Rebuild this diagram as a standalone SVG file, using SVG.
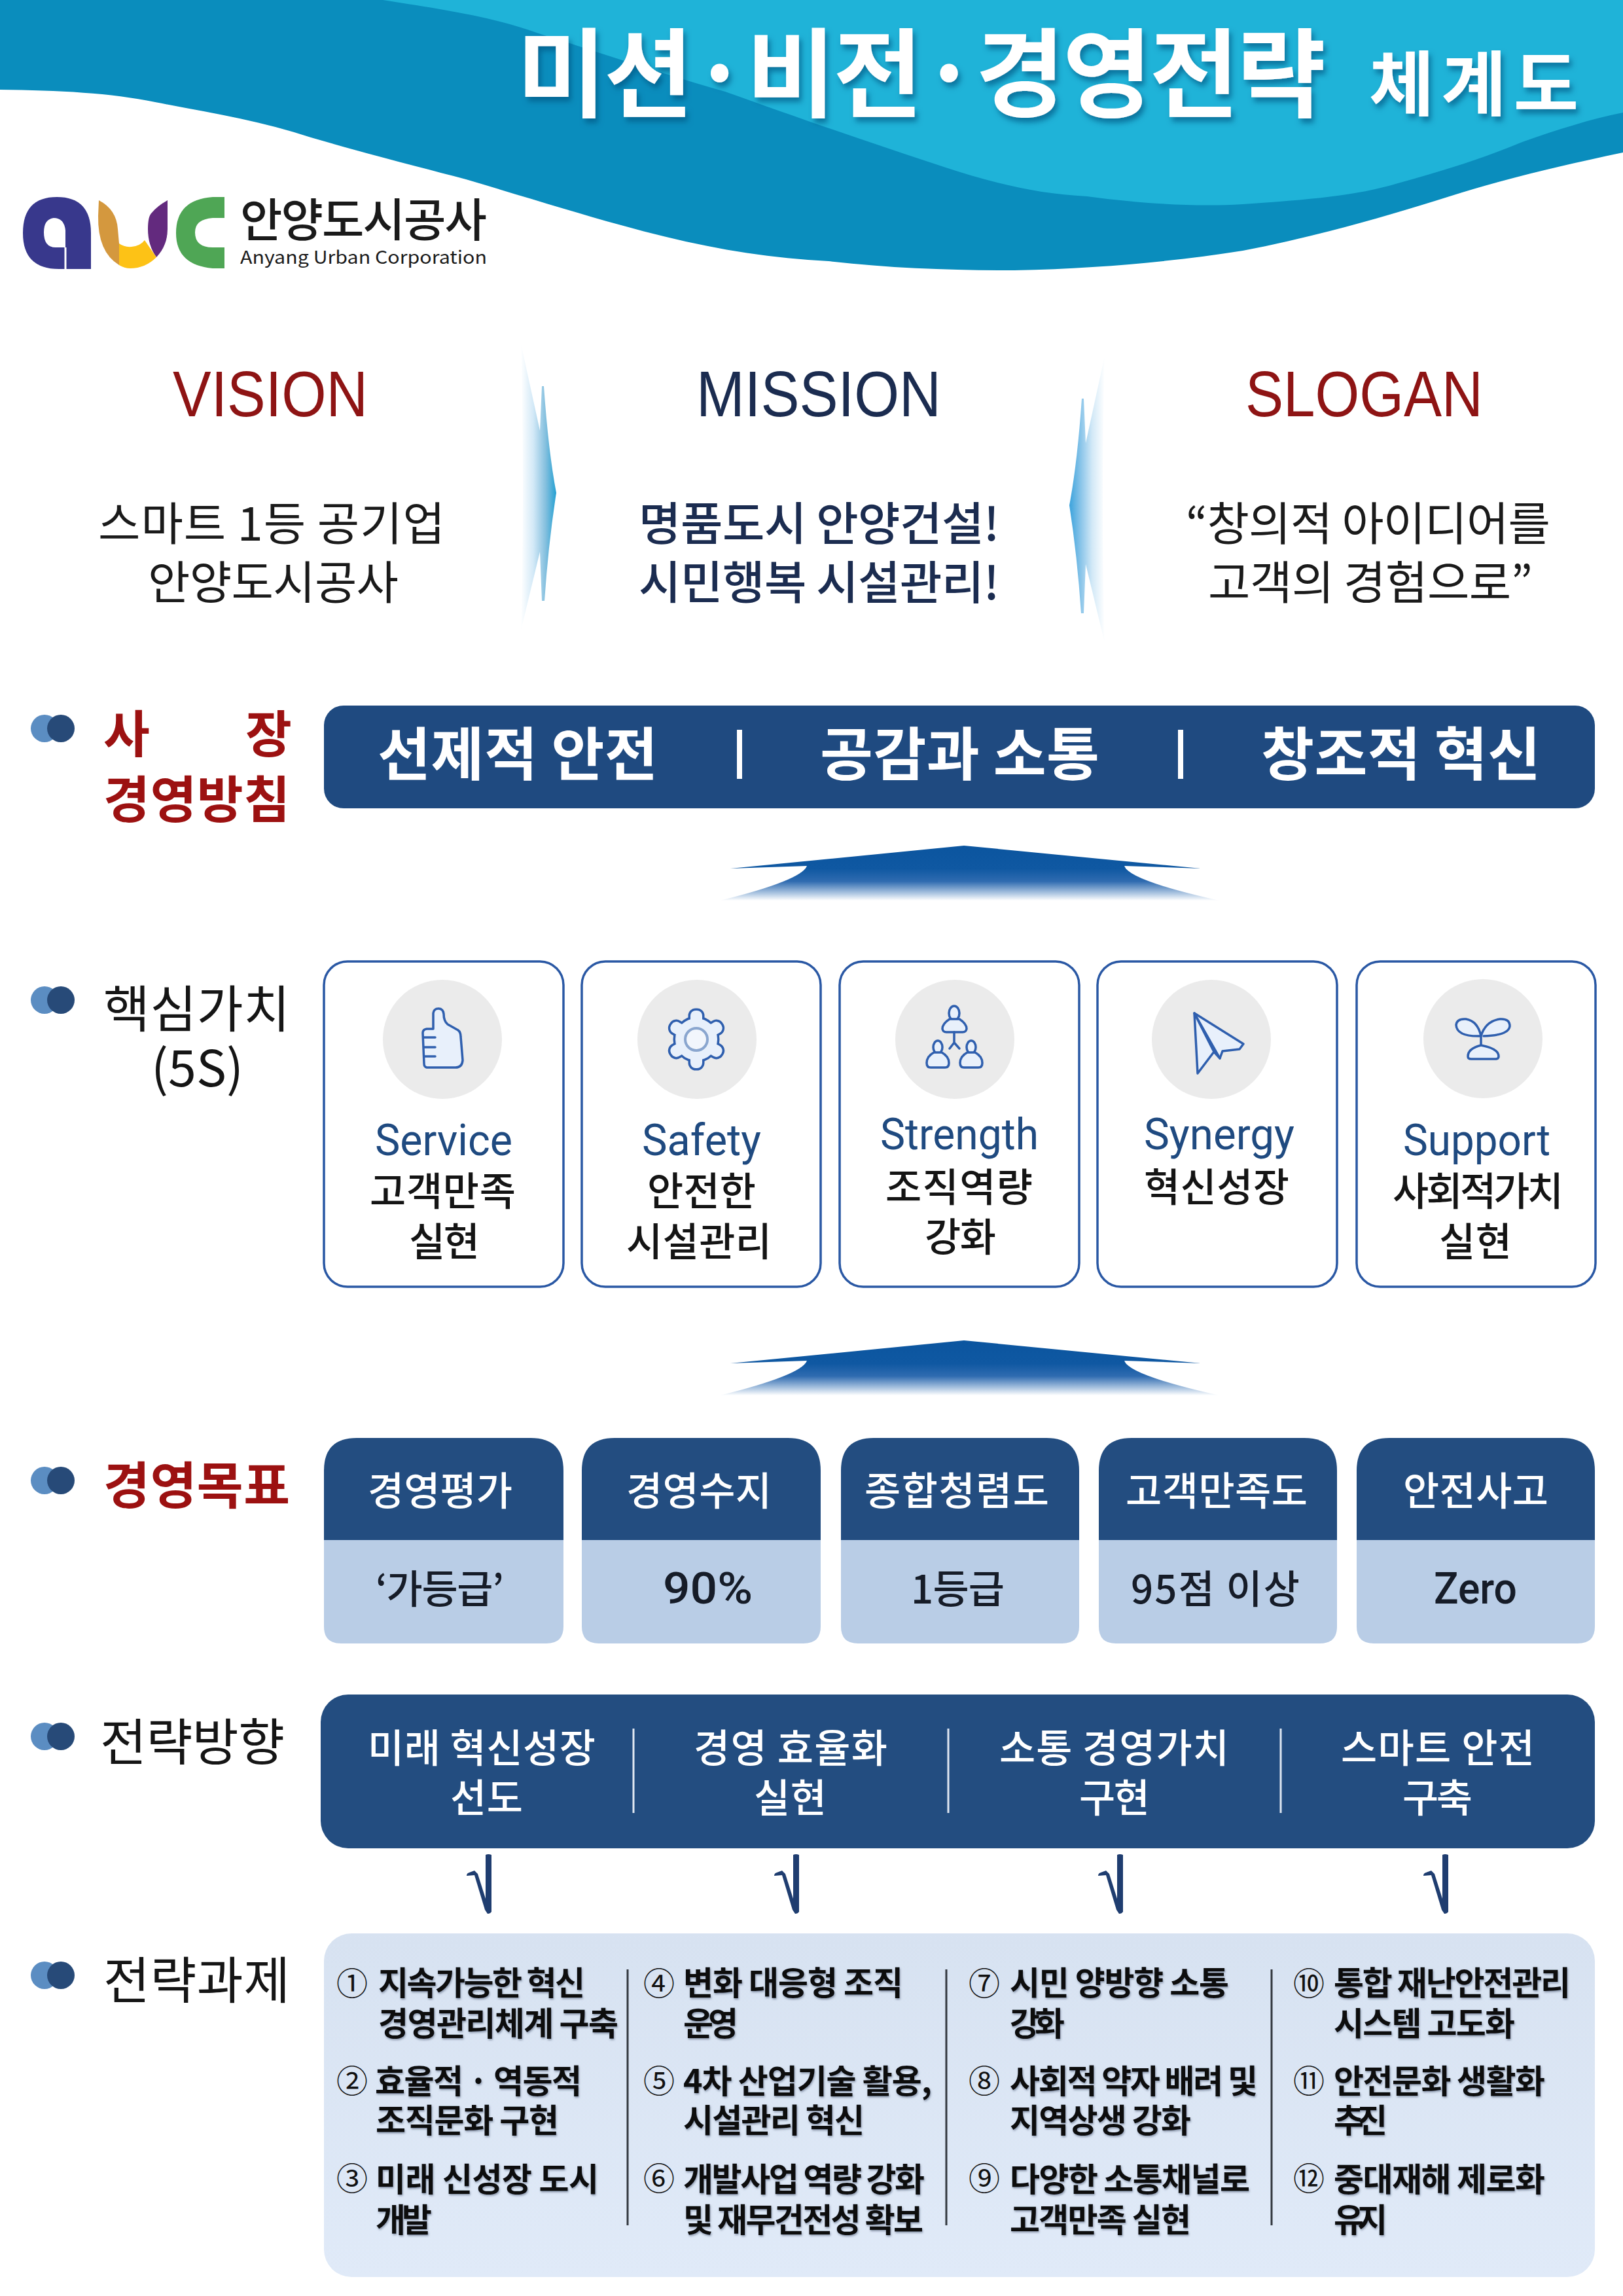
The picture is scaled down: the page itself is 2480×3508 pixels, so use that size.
<svg xmlns="http://www.w3.org/2000/svg" width="2480" height="3508" viewBox="0 0 2480 3508">
<style>
text{font-family:"Noto Sans CJK KR","Noto Sans",sans-serif;white-space:pre}
.w{fill:#fff}.m{font-weight:500}.b{font-weight:700}
.navy{fill:#1b2c50}.dk{fill:#1a1a1a}.red{fill:#8e1414}.rb{fill:#9c1111;font-weight:700;font-size:77px}
.head{font-family:"Liberation Sans",Arial,sans-serif;font-size:98px}
.h{font-size:77px;fill:#151515}
.vm{font-size:70px}
.lat{font-family:Roboto,"Noto Sans",sans-serif;font-size:66px;fill:#1f4a80}
.ko{font-size:60px;font-weight:500;fill:#141414}
.gt{font-size:60px;font-weight:500;fill:#fff}
.gb{font-size:60px;font-weight:500;fill:#161c28}
.gl{font-family:Roboto,"Noto Sans",sans-serif;font-size:66px;font-weight:500;fill:#161c28}
.st{font-size:60px;font-weight:500;fill:#fff}
.t{font-size:50px;font-weight:700;fill:#111;filter:url(#ts)}
.n{font-size:48px;fill:#111;text-anchor:middle}
.card{fill:#fff;stroke:#2a58a4;stroke-width:3.5}
.disc{fill:#ebebeb}
.ic{fill:#e8f0fb;stroke:#2f5fae;stroke-width:3.5;stroke-linejoin:round;stroke-linecap:round}
.gtop{fill:#234d80}.gbot{fill:#b9cde6}
.div{stroke:#dfe7f2;stroke-width:3}
.tdiv{stroke:#33383f;stroke-width:3}
.chk{fill:#1f3d70}
</style>
<defs>
<filter id="tsh" x="-5%" y="-20%" width="110%" height="150%"><feDropShadow dx="4" dy="7" stdDeviation="4" flood-color="#05527f" flood-opacity=".65"/></filter>
<filter id="ts" x="-5%" y="-20%" width="110%" height="140%"><feDropShadow dx="1" dy="2" stdDeviation="1.5" flood-color="#3a4c66" flood-opacity=".5"/></filter>
<linearGradient id="sepL" x1="0" x2="1" y1="0" y2="0"><stop offset="0" stop-color="#fff"/><stop offset=".35" stop-color="#d3e9f7"/><stop offset=".7" stop-color="#84bfde"/><stop offset="1" stop-color="#23a0d2"/></linearGradient>
<linearGradient id="sepR" x1="1" x2="0" y1="0" y2="0"><stop offset="0" stop-color="#fff"/><stop offset=".35" stop-color="#d3e9f7"/><stop offset=".7" stop-color="#84c2e8"/><stop offset="1" stop-color="#3aa2dc"/></linearGradient>
<linearGradient id="up" x1="0" x2="0" y1="0" y2="1"><stop offset="0" stop-color="#0b559f"/><stop offset=".42" stop-color="#0f58a2"/><stop offset=".65" stop-color="#2f6bb0"/><stop offset=".88" stop-color="#b4cbe4"/><stop offset="1" stop-color="#ffffff"/></linearGradient>
<linearGradient id="panel" x1="0" x2="0" y1="0" y2="1"><stop offset="0" stop-color="#d7e2f1"/><stop offset="1" stop-color="#e0eaf8"/></linearGradient>
<g id="bul"><circle cx="68" cy="0" r="21" fill="#5b8dc2"/><circle cx="93" cy="0" r="21" fill="#274a78"/></g>
<path id="upShape" d="M1473 1292L1835 1327L1718 1323Q1725 1345 1863 1376L1100 1376Q1225 1345 1233 1323L1116 1327Z" fill="url(#up)"/>
<path id="chkShape" d="M-3 1Q1 -1 6 1L6 88Q4 91 0 91L-4 85L-20 32L-32 33Q-32 29 -28 28L-20 25L-15 30L-3 68Z"/>
<g id="gearShape"><circle cx="0" cy="0" r="32"/><rect x="-9" y="-44" width="18" height="88" rx="8"/><rect x="-9" y="-44" width="18" height="88" rx="8" transform="rotate(60)"/><rect x="-9" y="-44" width="18" height="88" rx="8" transform="rotate(120)"/></g>
</defs>
<rect width="2480" height="3508" fill="#fff"/>

<g id="header">
<path d="M0 137C90 138 170 142 237 156C320 172 400 185 475 210C560 235 640 255 712 274C800 300 880 325 949 344C1060 375 1160 394 1266 399C1360 410 1460 413 1550 413C1680 410 1790 400 1899 383C2010 362 2120 330 2215 300C2310 270 2400 250 2480 233V0H0Z" fill="#0a8dbd"/>
<path d="M585 0C680 15 750 25 823 51C930 85 1020 115 1108 140C1220 180 1320 215 1424 249C1510 278 1580 296 1661 300C1750 312 1830 316 1899 312C1990 306 2070 300 2136 280C2210 260 2270 240 2326 217C2380 198 2430 182 2480 172V0Z" fill="#1fb3d8"/>
<text class="w b" x="790" y="167" font-size="148" textLength="1236" filter="url(#tsh)">미션·비전·경영전략</text>
<text class="w b" x="2092" y="168" font-size="108" textLength="320" filter="url(#tsh)">체계도</text>
</g>

<g id="logo">
<path fill-rule="evenodd" d="M139 411V356Q139 301 87 301Q35 301 35 356Q35 411 90 411ZM100 378V352Q98 333 82 333Q67 335 67 355Q67 378 85 378Z" fill="#38388c"/>
<path d="M98.500 378H101.500V411H98.500Z" fill="#fff"/>
<path d="M151 306Q178 320 180 350L182 372L182 405Q149 385 150 330Z" fill="#d4983e"/>
<path d="M256 306V350Q256 375 239 393Q226 375 226 350Q226 330 232 325Q240 315 256 306Z" fill="#632a7e"/>
<path d="M182 372Q190 378 201 377Q214 376 221 367L239 393Q222 410 199 410Q190 410 182 405Z" fill="#fdc216"/>
<path d="M343 301V333H325Q298 335 298 355Q298 378 325 378H343V410H325Q269 405 269 356Q269 305 325 301Z" fill="#4fa655"/>
<text class="dk m" x="367" y="362" font-size="70" textLength="377">안양도시공사</text>
<text class="dk" x="367" y="403" font-size="27" textLength="377" lengthAdjust="spacingAndGlyphs">Anyang Urban Corporation</text>
</g>

<g id="vision">
<text class="red head" x="264" y="636" textLength="298" lengthAdjust="spacingAndGlyphs">VISION</text>
<text class="dk vm" x="150" y="826" textLength="530">스마트 1등 공기업</text>
<text class="dk vm" x="226" y="916" textLength="383">안양도시공사</text>
</g>
<g id="mission">
<text class="navy head" x="1064" y="636" textLength="374" lengthAdjust="spacingAndGlyphs">MISSION</text>
<text class="navy vm m" x="976" y="826" textLength="551">명품도시 안양건설!</text>
<text class="navy vm m" x="976" y="916" textLength="551">시민행복 시설관리!</text>
</g>
<g id="slogan">
<text class="red head" x="1903" y="636" textLength="363" lengthAdjust="spacingAndGlyphs">SLOGAN</text>
<text class="dk vm" x="1812" y="826" textLength="557">“창의적 아이디어를</text>
<text class="dk vm" x="1846" y="916" textLength="496">고객의 경험으로”</text>
</g>
<g id="separators">
<path d="M796 525L825 658L828 590L831 590Q838 690 850 753Q838 830 832 918L828 918L825 843L796 963Q802 750 796 525Z" fill="url(#sepL)"/>
<path d="M1688 544L1659 677L1656 609L1653 609Q1646 709 1634 772Q1646 849 1652 937L1656 937L1659 862L1688 982Q1682 769 1688 544Z" fill="url(#sepR)"/>
</g>

<g id="policy">
<use href="#bul" y="1113"/>
<text class="rb" x="158" y="1150">사</text>
<text class="rb" x="375" y="1150">장</text>
<text class="rb" x="158" y="1250" textLength="285">경영방침</text>
<rect x="495" y="1078" width="1942" height="157" rx="30" fill="#1f4a80"/>
<text class="w b" x="577" y="1184" font-size="88" textLength="428">선제적 안전</text>
<rect x="1126" y="1115" width="8" height="75" fill="#fff"/>
<text class="w b" x="1253" y="1184" font-size="88" textLength="427">공감과 소통</text>
<rect x="1800" y="1115" width="8" height="75" fill="#fff"/>
<text class="w b" x="1927" y="1184" font-size="88" textLength="427">창조적 혁신</text>
</g>

<g id="connectors">
<use href="#upShape"/>
<use href="#upShape" y="756"/>
<g class="chk">
<use href="#chkShape" x="745" y="2833"/>
<use href="#chkShape" x="1215" y="2833"/>
<use href="#chkShape" x="1710" y="2833"/>
<use href="#chkShape" x="2207" y="2833"/>
</g>
</g>

<g id="core-label">
<use href="#bul" y="1528"/>
<text class="h" x="158" y="1570" textLength="285">핵심가치</text>
<text class="h" x="231" y="1660" textLength="141" lengthAdjust="spacingAndGlyphs">(5S)</text>
</g>

<g id="card-service">
<rect class="card" x="495" y="1469" width="366" height="497" rx="36"/>
<circle class="disc" cx="676" cy="1588" r="91"/>
<path class="ic" d="M662 1572L662 1548Q663 1541 670 1541Q677 1541 678 1549Q678 1560 684 1565L700 1574Q704 1577 704 1584L707 1620Q706 1631 696 1631L652 1631Q648 1630 648 1625L646 1578Q646 1573 652 1572Z"/>
<path class="ic" fill="none" d="M647 1585H665M648 1600H665M648 1614H665"/>
<text class="lat" x="573" y="1765" textLength="210" lengthAdjust="spacingAndGlyphs">Service</text>
<text class="ko" x="565" y="1842" textLength="223">고객만족</text>
<text class="ko" x="625" y="1919" textLength="108">실현</text>
</g>
<g id="card-safety">
<rect class="card" x="889" y="1469" width="365" height="497" rx="36"/>
<circle class="disc" cx="1065" cy="1588" r="91"/>
<use href="#gearShape" x="1064" y="1588" fill="#2f5fae" stroke="#2f5fae" stroke-width="7"/>
<use href="#gearShape" x="1064" y="1588" fill="#e8f0fb"/>
<circle cx="1064" cy="1588" r="17" fill="#f2f6fc" stroke="#8aa6cf" stroke-width="4"/>
<text class="lat" x="981" y="1765" textLength="182" lengthAdjust="spacingAndGlyphs">Safety</text>
<text class="ko" x="989" y="1842" textLength="166">안전한</text>
<text class="ko" x="957" y="1919" textLength="222">시설관리</text>
</g>
<g id="card-strength">
<rect class="card" x="1283" y="1469" width="366" height="497" rx="36"/>
<circle class="disc" cx="1459" cy="1588" r="91"/>
<ellipse class="ic" cx="1458" cy="1548" rx="8" ry="11"/>
<path class="ic" d="M1451 1557Q1440 1564 1440 1572Q1441 1577 1446 1577H1471Q1476 1577 1477 1572Q1477 1564 1466 1557Z"/>
<path class="ic" fill="none" d="M1458 1577V1593M1458 1593L1451 1602M1458 1593L1466 1602"/>
<ellipse class="ic" cx="1433" cy="1600" rx="7" ry="10"/>
<path class="ic" d="M1427 1608Q1416 1614 1416 1624Q1416 1631 1422 1631H1444Q1450 1631 1450 1624Q1450 1614 1439 1608Z"/>
<ellipse class="ic" cx="1484" cy="1600" rx="7" ry="10"/>
<path class="ic" d="M1478 1608Q1467 1614 1467 1624Q1467 1631 1473 1631H1495Q1501 1631 1501 1624Q1501 1614 1490 1608Z"/>
<text class="lat" x="1345" y="1756" textLength="242" lengthAdjust="spacingAndGlyphs">Strength</text>
<text class="ko" x="1353" y="1836" textLength="225">조직역량</text>
<text class="ko" x="1413" y="1912" textLength="109">강화</text>
</g>
<g id="card-synergy">
<rect class="card" x="1677" y="1469" width="366" height="497" rx="36"/>
<circle class="disc" cx="1851" cy="1588" r="91"/>
<path class="ic" d="M1825 1548L1900 1595L1894 1603L1868 1606L1864 1617L1855 1607L1830 1640Z"/>
<path class="ic" fill="none" d="M1825 1548L1864 1617M1825 1548L1855 1607"/>
<text class="lat" x="1748" y="1756" textLength="230" lengthAdjust="spacingAndGlyphs">Synergy</text>
<text class="ko" x="1748" y="1836" textLength="222">혁신성장</text>
</g>
<g id="card-support">
<rect class="card" x="2073" y="1469" width="365" height="497" rx="36"/>
<circle class="disc" cx="2266" cy="1587" r="91"/>
<path class="ic" fill="none" d="M2262 1583Q2226 1584 2225 1566Q2226 1556 2240 1557Q2258 1560 2263 1583Q2270 1560 2292 1557Q2307 1556 2307 1568Q2305 1582 2267 1583M2263 1583V1598"/>
<path class="ic" d="M2263 1597Q2243 1602 2243 1614Q2243 1618 2248 1618H2285Q2290 1618 2290 1614Q2290 1602 2263 1597Z"/>
<text class="lat" x="2144" y="1765" textLength="225" lengthAdjust="spacingAndGlyphs">Support</text>
<text class="ko" x="2128" y="1842" textLength="261">사회적가치</text>
<text class="ko" x="2199" y="1919" textLength="111">실현</text>
</g>

<g id="goal-label">
<use href="#bul" y="2262"/>
<text class="rb" x="158" y="2298" textLength="285">경영목표</text>
</g>
<g id="goal-1">
<path class="gtop" d="M495 2353V2247Q495 2197 545 2197H811Q861 2197 861 2247V2353Z"/>
<path class="gbot" d="M495 2353H861V2485Q861 2511 835 2511H521Q495 2511 495 2485Z"/>
<text class="gt" x="562" y="2300" textLength="221">경영평가</text>
<text class="gb" x="574" y="2450" textLength="196">‘가등급’</text>
</g>
<g id="goal-2">
<path class="gtop" d="M889 2353V2247Q889 2197 939 2197H1204Q1254 2197 1254 2247V2353Z"/>
<path class="gbot" d="M889 2353H1254V2485Q1254 2511 1228 2511H915Q889 2511 889 2485Z"/>
<text class="gt" x="957" y="2300" textLength="222">경영수지</text>
<text class="gl" x="1013" y="2450" textLength="137" lengthAdjust="spacingAndGlyphs">90%</text>
</g>
<g id="goal-3">
<path class="gtop" d="M1285 2353V2247Q1285 2197 1335 2197H1599Q1649 2197 1649 2247V2353Z"/>
<path class="gbot" d="M1285 2353H1649V2485Q1649 2511 1623 2511H1311Q1285 2511 1285 2485Z"/>
<text class="gt" x="1321" y="2300" textLength="282">종합청렴도</text>
<text class="gb" x="1392" y="2450" textLength="143">1등급</text>
</g>
<g id="goal-4">
<path class="gtop" d="M1679 2353V2247Q1679 2197 1729 2197H1993Q2043 2197 2043 2247V2353Z"/>
<path class="gbot" d="M1679 2353H2043V2485Q2043 2511 2017 2511H1705Q1679 2511 1679 2485Z"/>
<text class="gt" x="1720" y="2300" textLength="278">고객만족도</text>
<text class="gb" x="1728" y="2450" font-size="62" textLength="258">95점 이상</text>
</g>
<g id="goal-5">
<path class="gtop" d="M2073 2353V2247Q2073 2197 2123 2197H2387Q2437 2197 2437 2247V2353Z"/>
<path class="gbot" d="M2073 2353H2437V2485Q2437 2511 2411 2511H2099Q2073 2511 2073 2485Z"/>
<text class="gt" x="2144" y="2300" textLength="222">안전사고</text>
<text class="gl" x="2191" y="2450" textLength="127" lengthAdjust="spacingAndGlyphs">Zero</text>
</g>

<g id="direction">
<use href="#bul" y="2653"/>
<text class="h" x="153" y="2690" textLength="282">전략방향</text>
<rect x="490" y="2589" width="1947" height="235" rx="42" fill="#234d80"/>
<path class="div" d="M968 2641V2770M1449 2641V2770M1957 2641V2770"/>
<text class="st" x="562" y="2693" textLength="348">미래 혁신성장</text>
<text class="st" x="688" y="2769" textLength="111">선도</text>
<text class="st" x="1060" y="2693" textLength="296">경영 효율화</text>
<text class="st" x="1152" y="2769" textLength="111">실현</text>
<text class="st" x="1527" y="2693" textLength="351">소통 경영가치</text>
<text class="st" x="1649" y="2769" textLength="108">구현</text>
<text class="st" x="2049" y="2693" textLength="296">스마트 안전</text>
<text class="st" x="2143" y="2769" textLength="107">구축</text>
</g>

<g id="tasks">
<use href="#bul" y="3018"/>
<text class="h" x="158" y="3054" textLength="285">전략과제</text>
<rect x="495" y="2954" width="1942" height="525" rx="42" fill="url(#panel)"/>
<path class="tdiv" d="M959 3009V3400M1446 3009V3400M1943 3009V3400"/>
<text class="n" x="538" y="3048">①</text>
<text class="t" x="578" y="3048" textLength="316">지속가능한 혁신</text>
<text class="t" x="578" y="3110" textLength="367">경영관리체계 구축</text>
<text class="n" x="538" y="3197">②</text>
<text class="t" x="573" y="3198" textLength="316">효율적 · 역동적</text>
<text class="t" x="574" y="3258" textLength="280">조직문화 구현</text>
<text class="n" x="538" y="3346">③</text>
<text class="t" x="574" y="3348" textLength="341">미래 신성장 도시</text>
<text class="t" x="574" y="3410" textLength="86">개발</text>
<text class="n" x="1007" y="3048">④</text>
<text class="t" x="1044" y="3048" textLength="336">변화 대응형 조직</text>
<text class="t" x="1044" y="3110" textLength="84">운영</text>
<text class="n" x="1007" y="3197">⑤</text>
<text class="t" x="1044" y="3198" textLength="380">4차 산업기술 활용,</text>
<text class="t" x="1044" y="3258" textLength="277">시설관리 혁신</text>
<text class="n" x="1007" y="3346">⑥</text>
<text class="t" x="1044" y="3348" textLength="369">개발사업 역량 강화</text>
<text class="t" x="1044" y="3410" textLength="367">및 재무건전성 확보</text>
<text class="n" x="1504" y="3048">⑦</text>
<text class="t" x="1543" y="3048" textLength="335">시민 양방향 소통</text>
<text class="t" x="1543" y="3110" textLength="84">강화</text>
<text class="n" x="1504" y="3197">⑧</text>
<text class="t" x="1543" y="3198" textLength="379">사회적 약자 배려 및</text>
<text class="t" x="1543" y="3258" textLength="277">지역상생 강화</text>
<text class="n" x="1504" y="3346">⑨</text>
<text class="t" x="1543" y="3348" textLength="367">다양한 소통채널로</text>
<text class="t" x="1543" y="3410" textLength="277">고객만족 실현</text>
<text class="n" x="2000" y="3048">⑩</text>
<text class="t" x="2038" y="3048" textLength="362">통합 재난안전관리</text>
<text class="t" x="2038" y="3110" textLength="277">시스템 고도화</text>
<text class="n" x="2000" y="3197">⑪</text>
<text class="t" x="2038" y="3198" textLength="323">안전문화 생활화</text>
<text class="t" x="2038" y="3258" textLength="82">추진</text>
<text class="n" x="2000" y="3346">⑫</text>
<text class="t" x="2038" y="3348" textLength="323">중대재해 제로화</text>
<text class="t" x="2038" y="3410" textLength="82">유지</text>
</g>
</svg>
